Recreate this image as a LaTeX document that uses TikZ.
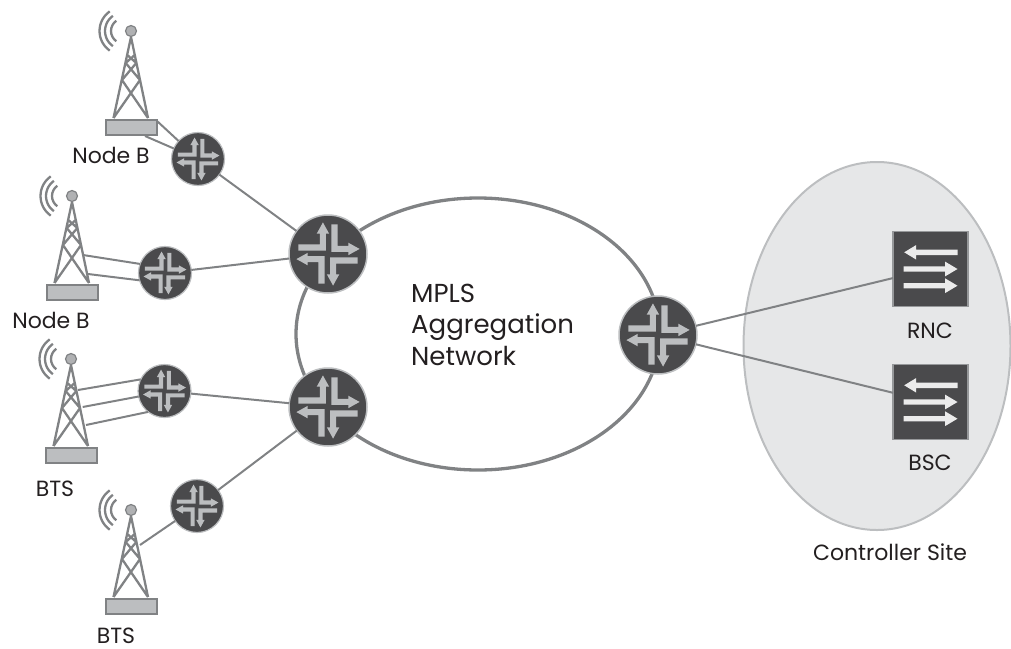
\documentclass[tikz,border=0pt]{standalone}
\usepackage{fontspec}
\setmainfont{Poppins}
\usetikzlibrary{shapes.geometric}
\definecolor{ink}{HTML}{231F20}
\definecolor{dark}{HTML}{4A4A4C}
\definecolor{wire}{HTML}{808284}
\definecolor{pale}{HTML}{BCBEC0}
\definecolor{site}{HTML}{E6E7E8}
\tikzset{
 x=1pt,y=-1pt,
 wirestyle/.style={draw=wire,line width=2pt},
 ring/.style={ellipse,draw=wire,line width=3.3pt,fill=white,inner sep=0,outer sep=0,minimum width=364pt,minimum height=272pt},
 sitebox/.style={ellipse,draw=pale,line width=2pt,fill=site,inner sep=0,outer sep=0,minimum width=267pt,minimum height=368pt},
 smallrouter/.style={circle,fill=dark,draw=pale,line width=1.2pt,minimum size=53pt,inner sep=0,outer sep=0},
 bigrouter/.style={circle,fill=dark,draw=pale,line width=1.5pt,minimum size=78pt,inner sep=0,outer sep=0},
 switchbox/.style={rectangle,fill=dark,draw=pale!80!black,line width=1.2pt,minimum size=75pt,inner sep=0,outer sep=0},
 label/.style={text=ink,font=\fontsize{22}{24}\selectfont,inner sep=0,anchor=base},
 biglabel/.style={text=ink,font=\fontsize{26}{32}\selectfont,inner sep=0,anchor=base west},
 routericon/.pic={
  \foreach \a in {0,-90,-180,-270}{
   \fill[pale,rotate=\a] (0.087,-0.76)--(0.245,-0.76)--(0.245,-0.21)--(0.52,-0.21)--(0.52,-0.29)--(0.81,-0.13)--(0.52,0.03)--(0.52,-0.055)--(0.087,-0.055)--cycle;
  }
 },
 towericon/.pic={
  \draw[wire,line width=2.3pt,line join=round]
    (0,6)--(-17.5,87) (0,6)--(17,87)
    (-17.5,87)--(9,49) (17,87)--(-9,49)
    (-9,49)--(5.3,32) (9,49)--(-5.3,32)
    (-5.3,32)--(3.7,24) (5.3,32)--(-3.7,24);
  \foreach \r in {12.5,18.5,24}{
   \draw[wire,line width=2.3pt] plot[domain=125:235,smooth,samples=9] ({-7.5+\r*cos(\x)},{\r*sin(\x)});
  }
  \fill[pale!80!gray,draw=wire,line width=1.2pt] (0,0) circle[radius=5.5pt];
  \fill[pale,draw=wire,line width=2pt] (-25,89) rectangle (26,104);
 },
 switchicon/.pic={
  \fill[white!92!black] (-26.3,-16.7)--(-14.3,-24)--(-14.3,-19.4)--(27,-19.4)--(27,-14)--(-14.3,-14)--(-14.3,-9.4)--cycle;
  \foreach \d in {0,16.7}{
   \fill[white!92!black] (27,\d)--(14.7,\d-7.3)--(14.7,\d-2.7)--(-27,\d-2.7)--(-27,\d+2.7)--(14.7,\d+2.7)--(14.7,\d+7.3)--cycle;
  }
 },
}
\begin{document}
\begin{tikzpicture}
\useasboundingbox (0,0) rectangle (1011,648);
% regions
\node[sitebox] (ctrl) at (877,346) {};
\node[ring] (mpls) at (478,334) {};
% routers and switches
\node[smallrouter] (r1) at (198,159) {};
\node[smallrouter] (r2) at (165,273) {};
\node[smallrouter] (r3) at (164.5,391) {};
\node[smallrouter] (r4) at (197,506) {};
\node[bigrouter] (b1) at (328,254) {};
\node[bigrouter] (b2) at (328,407) {};
\node[bigrouter] (b3) at (658,335) {};
\node[switchbox] (rnc) at (930.5,269) {};
\node[switchbox] (bsc) at (930.5,402) {};
\foreach \n/\s in {r1/26.5,r2/26.5,r3/26.5,r4/26.5,b1/39,b2/39,b3/39}{
 \pic[scale=\s] at (\n) {routericon};
}
\pic at (rnc) {switchicon};
\pic at (bsc) {switchicon};
% towers
\pic at (131,31) {towericon};
\pic at (72,196) {towericon};
\pic at (71,359) {towericon};
\pic at (131,510) {towericon};
% tower attachment points
\coordinate (t1a) at (157,121);
\coordinate (t1b) at (145,136);
\coordinate (t2a) at (83,255);
\coordinate (t2b) at (88,274);
\coordinate (t3a) at (78,390);
\coordinate (t3b) at (82.7,407);
\coordinate (t3c) at (86,425);
\coordinate (t4a) at (140,545);
% connectors
\draw[wirestyle] (t1a)--(r1) (t1b)--(r1);
\draw[wirestyle] (t2a)--(r2.160) (t2b)--(r2.196);
\draw[wirestyle] (t3a)--(r3.154) (t3b)--(r3.192) (t3c)--(r3.232);
\draw[wirestyle] (t4a)--(r4);
\draw[wirestyle] (r1)--(b1);
\draw[wirestyle] (r2)--(b1);
\draw[wirestyle] (r3)--(b2);
\draw[wirestyle] (r4)--(b2);
\draw[wirestyle] (b3)--(rnc);
\draw[wirestyle] (b3)--(bsc);
% labels
\node[label] (l1) at (111,163) {Node B};
\node[label] (l2) at (51,328) {Node B};
\node[label] (l3) at (55,496) {BTS};
\node[label] (l4) at (116,643) {BTS};
\node[label] (l5) at (930,338) {RNC};
\node[label] (l6) at (930,470) {BSC};
\node[label] (l7) at (890,560) {Controller Site};
\node[biglabel] (m1) at (411,302) {MPLS};
\node[biglabel] (m2) at (411,333) {Aggregation};
\node[biglabel] (m3) at (411,365) {Network};
\end{tikzpicture}
\end{document}
